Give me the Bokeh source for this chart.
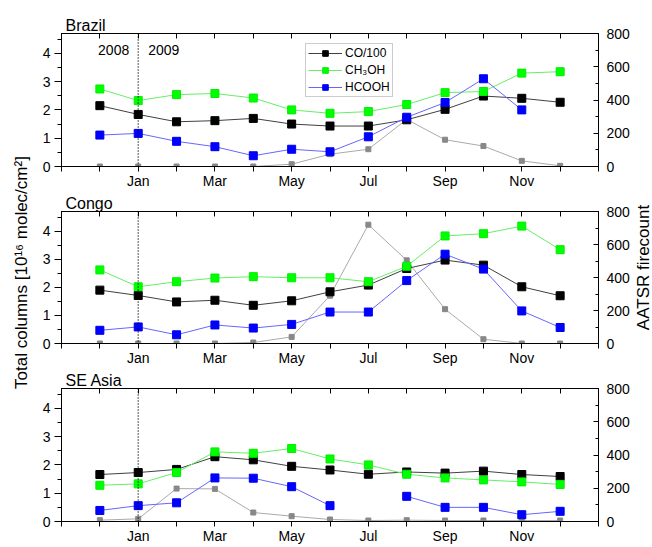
import math

from bokeh.core.properties import value
from bokeh.embed import file_html
from bokeh.layouts import column, row
from bokeh.models import (FixedTicker, Label, Legend, LegendItem, LinearAxis,
                          Range1d, SingleIntervalTicker, Span)
from bokeh.plotting import figure
from bokeh.resources import INLINE

nan = float("nan")

# Months from Dec 2008 (index 0) to Dec 2009 (index 12)
month_names = ["Dec", "Jan", "Feb", "Mar", "Apr", "May", "Jun",
               "Jul", "Aug", "Sep", "Oct", "Nov", "Dec"]
month_pos = list(range(len(month_names)))
tick_labels = {1: "Jan", 3: "Mar", 5: "May", 7: "Jul", 9: "Sep", 11: "Nov"}

# Brazil
brazil_co = [2.15, 1.84, 1.58, 1.62, 1.70, 1.50, 1.43, 1.43, 1.65, 2.02, 2.49, 2.41, 2.27]
brazil_ch3oh = [2.74, 2.33, 2.54, 2.58, 2.42, 2.00, 1.88, 1.94, 2.19, 2.61, 2.65, 3.30, 3.35]
brazil_hcooh = [1.11, 1.17, 0.89, 0.70, 0.38, 0.61, 0.52, 1.05, 1.74, 2.26, 3.10, 2.00, nan]
brazil_fire = [0, 0, 0, 0, 0, 14, 74, 104, 283, 161, 123, 34, 4]

# Congo
congo_co = [1.90, 1.71, 1.48, 1.54, 1.36, 1.52, 1.84, 2.08, 2.67, 2.97, 2.79, 2.02, 1.70]
congo_ch3oh = [2.62, 2.02, 2.20, 2.33, 2.38, 2.34, 2.34, 2.20, 2.75, 3.83, 3.91, 4.18, 3.34]
congo_hcooh = [0.47, 0.59, 0.31, 0.66, 0.55, 0.68, 1.12, 1.12, 2.24, 3.18, 2.65, 1.16, 0.57]
congo_fire = [0, 0, 0, 0, 6, 40, 290, 720, 504, 208, 26, 0, 0]

# SE Asia
asia_co = [1.66, 1.73, 1.84, 2.29, 2.18, 1.95, 1.82, 1.67, 1.75, 1.71, 1.78, 1.66, 1.59]
asia_ch3oh = [1.28, 1.33, 1.73, 2.46, 2.41, 2.58, 2.21, 2.00, 1.67, 1.54, 1.47, 1.40, 1.31]
asia_hcooh = [0.39, 0.56, 0.66, 1.54, 1.53, 1.23, 0.56, nan, 0.89, 0.50, 0.50, 0.24, 0.36]
asia_fire = [8, 16, 198, 196, 54, 32, 12, 6, 8, 6, 6, 6, 6]

FONT = "Liberation Sans"
LEFT_LABEL = "Total columns [10\u00b9\u2076 molec/cm\u00b2]"
RIGHT_LABEL = "AATSR firecount"

X_START, X_END = -1, 13
Y_END = 4.7
FIRE_END = 800

month_ticks = list(range(X_START, X_END + 1))
month_overrides = {m: tick_labels.get(m, "") for m in month_ticks}
blank_overrides = {m: "" for m in month_ticks}


def style_axis(ax):
    ax.axis_line_color = "black"
    ax.major_tick_line_color = "black"
    ax.minor_tick_line_color = "black"
    ax.major_label_text_color = "black"
    ax.major_label_text_font = FONT
    ax.major_label_text_font_size = "14px"


def panel(title, co, ch3oh, hcooh, fire, frame_h, top, bottom,
          show_legend=False, show_years=False):
    p = figure(frame_width=537, frame_height=frame_h,
               x_range=Range1d(X_START, X_END), y_range=Range1d(0, Y_END),
               output_backend="svg", toolbar_location=None,
               min_border_left=25, min_border_right=34,
               min_border_top=top, min_border_bottom=bottom, title=title)
    p.extra_y_ranges = {"fire": Range1d(0, FIRE_END)}
    p.grid.grid_line_color = None
    p.outline_line_color = "black"
    p.border_fill_color = "white"

    p.title.text_font = FONT
    p.title.text_font_size = "16px"
    p.title.text_font_style = "normal"
    p.title.text_color = "black"
    p.title.offset = 4
    p.title.standoff = 0

    # month axis below, with labels on odd months
    xa = p.xaxis[0]
    style_axis(xa)
    xa.ticker = FixedTicker(ticks=month_ticks, minor_ticks=[])
    xa.major_label_overrides = month_overrides
    xa.major_tick_out = 5
    xa.major_tick_in = 0
    xa.major_label_standoff = 1

    # mirrored month ticks above
    xt = LinearAxis(ticker=FixedTicker(ticks=month_ticks, minor_ticks=[]),
                    major_label_overrides=blank_overrides)
    style_axis(xt)
    xt.major_tick_in = 5
    xt.major_tick_out = 0
    xt.major_label_text_font_size = "0px"
    xt.major_label_standoff = 0
    p.add_layout(xt, "above")

    # columns axis on the left
    ya = p.yaxis[0]
    style_axis(ya)
    ya.ticker = SingleIntervalTicker(interval=1, num_minor_ticks=2)
    ya.major_tick_out = 7
    ya.major_tick_in = 0
    ya.minor_tick_out = 4
    ya.minor_tick_in = 0
    ya.major_label_standoff = 4

    # fire count axis on the right
    yr = LinearAxis(y_range_name="fire",
                    ticker=SingleIntervalTicker(interval=200, num_minor_ticks=2))
    style_axis(yr)
    yr.major_tick_in = 5
    yr.major_tick_out = 0
    yr.minor_tick_in = 3
    yr.minor_tick_out = 0
    yr.major_label_standoff = 8
    p.add_layout(yr, "right")

    p.add_layout(Span(location=1, dimension="height", line_color="black",
                      line_dash="1 2", line_width=1.3))

    p.line(month_pos, fire, y_range_name="fire", line_color="#aaaaaa", line_width=1)
    p.scatter(month_pos, fire, y_range_name="fire", marker="square", size=5,
              fill_color="#888888", line_color="#888888")

    l_co = p.line(month_pos, co, line_color="#404040", line_width=1)
    s_co = p.scatter(month_pos, co, marker="square", size=8,
                     fill_color="black", line_color="black")
    l_ch = p.line(month_pos, ch3oh, line_color="#66ee66", line_width=1)
    s_ch = p.scatter(month_pos, ch3oh, marker="square", size=8,
                     fill_color="#00ff00", line_color="#00ee00")
    l_hc = p.line(month_pos, hcooh, line_color="#6666ff", line_width=1)
    s_hc = p.scatter(month_pos, hcooh, marker="square", size=8,
                     fill_color="#0000ff", line_color="#0000ee")

    if show_years:
        p.add_layout(Label(x=1, y=4.1, text="2008", x_offset=-9, text_align="right",
                           text_baseline="middle", text_font=FONT,
                           text_font_size="14px", text_color="black"))
        p.add_layout(Label(x=1, y=4.1, text="2009", x_offset=10, text_align="left",
                           text_baseline="middle", text_font=FONT,
                           text_font_size="14px", text_color="black"))

    if show_legend:
        legend = Legend(items=[
            LegendItem(label="CO/100", renderers=[l_co, s_co]),
            LegendItem(label="CH\u2083OH", renderers=[l_ch, s_ch]),
            LegendItem(label="HCOOH", renderers=[l_hc, s_hc]),
        ], location=(244, 69))
        legend.border_line_color = "#999999"
        legend.border_line_width = 1
        legend.background_fill_alpha = 1
        legend.label_text_font = FONT
        legend.label_text_font_size = "12px"
        legend.label_text_color = "black"
        legend.glyph_width = 34
        legend.glyph_height = 14
        legend.label_height = 14
        legend.label_standoff = 3
        legend.spacing = 3
        legend.padding = 2
        legend.margin = 0
        p.add_layout(legend)

    return p


def side_label(text, width, x, y, angle):
    # narrow strip carrying a rotated axis title shared by the panels
    s = figure(width=width, height=547, x_range=Range1d(0, width),
               y_range=Range1d(0, 547), output_backend="svg",
               toolbar_location=None, min_border=0,
               x_axis_location=None, y_axis_location=None)
    s.grid.grid_line_color = None
    s.outline_line_color = None
    s.text(x=[x], y=[y], text=[text], angle=angle,
           text_align="center", text_baseline="middle", text_font=value(FONT),
           text_font_size="17px", text_color="black")
    return s


p1 = panel("Brazil", brazil_co, brazil_ch3oh, brazil_hcooh, brazil_fire,
           frame_h=133, top=33, bottom=25, show_legend=True, show_years=True)
p2 = panel("Congo", congo_co, congo_ch3oh, congo_hcooh, congo_fire,
           frame_h=132, top=20, bottom=25)
p3 = panel("SE Asia", asia_co, asia_ch3oh, asia_hcooh, asia_fire,
           frame_h=133, top=20, bottom=26)

left = side_label(LEFT_LABEL, 36, 21, 275, math.pi / 2)
right = side_label(RIGHT_LABEL, 20, 11, 280, math.pi / 2)

layout = row(left, column(p1, p2, p3, spacing=0), right, spacing=0)

open("out.html", "w").write(file_html(layout, INLINE))
